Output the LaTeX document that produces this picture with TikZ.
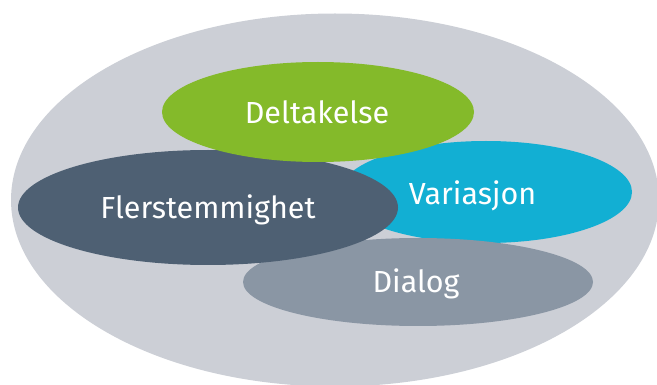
\documentclass[tikz,border=0pt]{standalone}
\usepackage{fontspec}
\setsansfont{Fira Sans}
\usetikzlibrary{shapes.geometric}
\definecolor{frame}{HTML}{CCCFD6}
\definecolor{leaf}{HTML}{84BA2A}
\definecolor{slate}{HTML}{4E6073}
\definecolor{sky}{HTML}{12AFD3}
\definecolor{mist}{HTML}{8A96A4}
\begin{document}
\begin{tikzpicture}[x=1pt,y=-1pt,
  blob/.style={ellipse, inner sep=0pt},
  tag/.style={anchor=base, inner sep=0pt, text=white,
    font=\sffamily\fontsize{30.5}{32}\selectfont}]
  \useasboundingbox (0,0) rectangle (657,385);
  \clip (0,0) rectangle (657,385);
  % outer field
  \node[blob, fill=frame, minimum width=648pt, minimum height=373pt] (field) at (335,200) {};
  % overlapping themes, back to front
  \node[blob, fill=sky, minimum width=292pt, minimum height=102pt] (var) at (486,192) {};
  \node[blob, fill=mist, minimum width=350pt, minimum height=88pt] (dia) at (418,282) {};
  \node[blob, fill=slate, minimum width=380pt, minimum height=115pt] (fle) at (208,207.5) {};
  \node[blob, fill=leaf, minimum width=312pt, minimum height=100pt] (del) at (318,112) {};
  % labels, placed on their baselines
  \node[tag] (deltxt) at (317,124) {Deltakelse};
  \node[tag] (fletxt) at (208,219) {Flerstemmighet};
  \node[tag] (vartxt) at (472.5,205) {Variasjon};
  \node[tag] (diatxt) at (416,293) {Dialog};
\end{tikzpicture}
\end{document}
